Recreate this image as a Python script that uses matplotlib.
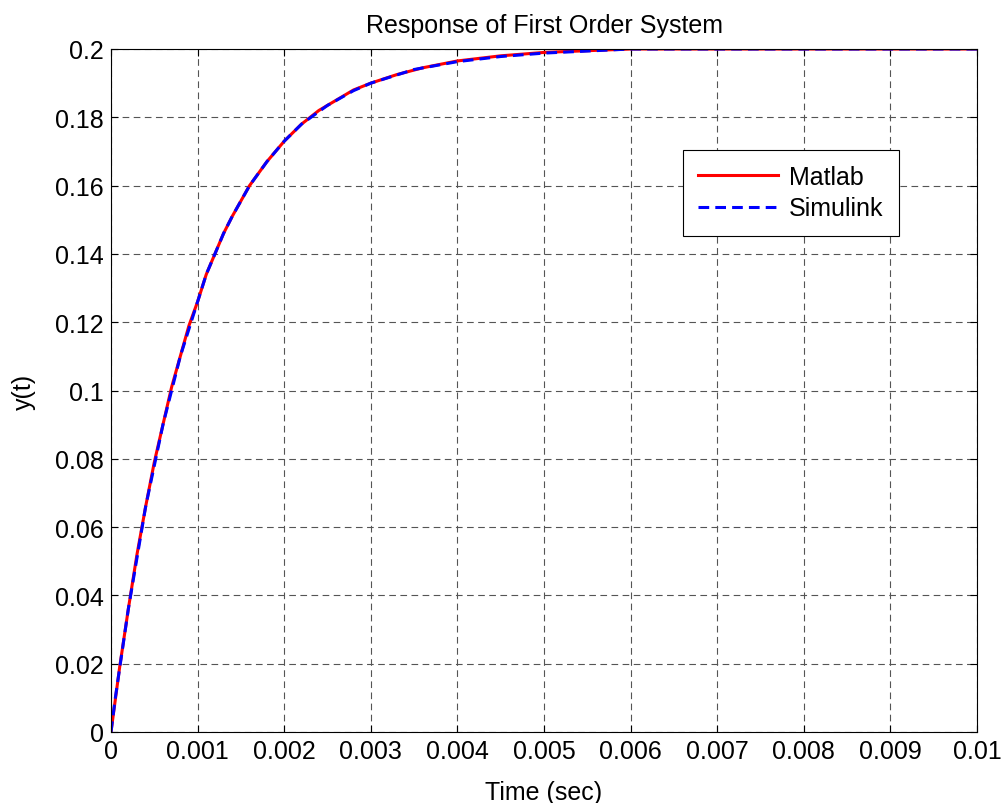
import matplotlib
matplotlib.use("Agg")
import matplotlib.pyplot as plt
import numpy as np

# values
t_matlab = [0, 0.0001, 0.0002, 0.0003, 0.0004, 0.0005, 0.0006, 0.0007, 0.0008,
            0.0009, 0.001, 0.0011, 0.0012, 0.0013, 0.0014, 0.0016, 0.0018,
            0.002, 0.0022, 0.0024, 0.0026, 0.0028, 0.003, 0.0033, 0.0036,
            0.004, 0.0045, 0.005, 0.0055, 0.006, 0.01]
y_matlab = [0, 0.019, 0.036, 0.052, 0.066, 0.079, 0.090, 0.101, 0.110,
            0.119, 0.126, 0.134, 0.140, 0.146, 0.151, 0.160, 0.167,
            0.173, 0.178, 0.182, 0.185, 0.188, 0.190, 0.1925, 0.1945,
            0.1965, 0.198, 0.199, 0.1995, 0.2, 0.2]

t_simulink = [0, 0.00005, 0.0002, 0.0004, 0.0006, 0.0008, 0.001, 0.0011,
              0.0012, 0.0013, 0.0014, 0.0016, 0.0018, 0.002, 0.0022, 0.0025,
              0.0028, 0.003, 0.0035, 0.004, 0.0045, 0.005, 0.006, 0.01]
y_simulink = [0, 0.010, 0.036, 0.066, 0.090, 0.110, 0.126, 0.134,
              0.140, 0.146, 0.151, 0.160, 0.167, 0.173, 0.178, 0.1835,
              0.1878, 0.190, 0.194, 0.1963, 0.1978, 0.1988, 0.2, 0.2]

xticks = np.arange(0, 0.0101, 0.001)
yticks = np.arange(0, 0.201, 0.02)
xlabels = ["0", "0.001", "0.002", "0.003", "0.004", "0.005", "0.006", "0.007", "0.008", "0.009", "0.01"]
ylabels = ["0", "0.02", "0.04", "0.06", "0.08", "0.1", "0.12", "0.14", "0.16", "0.18", "0.2"]

plt.rcParams['font.family'] = ['Liberation Sans', 'DejaVu Sans']
fs = 18

fig = plt.figure(figsize=(10.05, 8.04), dpi=100)
ax = fig.add_axes([111/1005, (804-733)/804, 866/1005, 683/804])

ax.plot(t_matlab, y_matlab, '-', color='red', lw=2.2, label='Matlab')
ax.plot(t_simulink, y_simulink, '--', color='blue', lw=2.2, dashes=(3.5, 2), label='Simulink')

ax.set_xlim(0, 0.01)
ax.set_ylim(0, 0.2)
ax.set_xticks(xticks)
ax.set_xticklabels(xlabels)
ax.set_yticks(yticks)
ax.set_yticklabels(ylabels)
ax.tick_params(direction='in', length=5, width=0.8, top=True, right=True,
               labelsize=fs, pad=5)
ax.grid(True, color='#555555', linestyle=(0, (6, 4)), linewidth=0.8)
for s in ax.spines.values():
    s.set_linewidth(0.8)

ax.set_title('Response of First Order System', fontsize=fs, pad=12)
ax.set_xlabel('Time (sec)', fontsize=fs, labelpad=12)
ax.set_ylabel('y(t)', fontsize=fs, labelpad=14)

leg = ax.legend(loc='upper left', bbox_to_anchor=((683-111)/866, (733-151)/683),
                fontsize=fs, fancybox=False, edgecolor='black', framealpha=1,
                handlelength=3.2, handletextpad=0.45, borderpad=0.6,
                labelspacing=0.3, borderaxespad=0)
leg.get_frame().set_linewidth(0.8)

fig.savefig('out.png', dpi=100)
